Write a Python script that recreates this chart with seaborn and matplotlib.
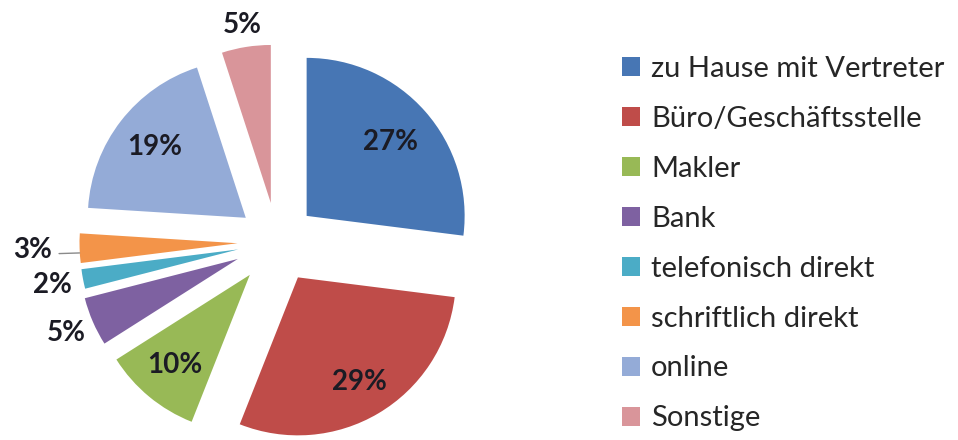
import matplotlib
matplotlib.use("Agg")
import matplotlib.pyplot as plt
from matplotlib.patches import Patch
import numpy as np
import seaborn as sns

# Vertriebswege: Anteil der Abschlüsse in Prozent
categories = [
    "zu Hause mit Vertreter",
    "Büro/Geschäftsstelle",
    "Makler",
    "Bank",
    "telefonisch direkt",
    "schriftlich direkt",
    "online",
    "Sonstige",
]
shares = [27, 29, 10, 5, 2, 3, 19, 5]

palette = sns.color_palette([
    "#4776B4", "#BF4C49", "#98B956", "#7E61A1",
    "#4BACC6", "#F39449", "#94ABD7", "#D9959A",
])

sns.set_theme(style="white")
plt.rcParams["font.family"] = ["Lato", "DejaVu Sans"]

W, H, DPI = 958, 440, 100
fig = plt.figure(figsize=(W / DPI, H / DPI), dpi=DPI)
fig.patch.set_facecolor("white")
ax = fig.add_axes([0, 0, 1, 1])

# pie geometry in pixels: centre and radius
cx, cy, R = 277, H - 242, 158

explode = [0.25, 0.26, 0.27, 0.27, 0.25, 0.25, 0.25, 0.25]
label_dist = [0.71, 0.77, 0.74, 1.18, 1.20, 1.30, 0.73, 1.14]

wedges, _ = ax.pie(
    shares,
    colors=palette,
    startangle=90,
    counterclock=False,
    explode=explode,
    wedgeprops=dict(linewidth=0),
)

ax.set_xlim(-cx / R, (W - cx) / R)
ax.set_ylim(-cy / R, (H - cy) / R)
ax.set_aspect("auto")
ax.axis("off")

for w, val, d in zip(wedges, shares, label_dist):
    mid = np.deg2rad((w.theta1 + w.theta2) / 2)
    x0, y0 = w.center
    tx = x0 + d * np.cos(mid)
    ty = y0 + d * np.sin(mid)
    ax.text(tx, ty, f"{val}%", ha="center", va="center",
            fontsize=20, fontweight="bold", color="#1b1b24")

# leader line for the 3 % slice
w = wedges[5]
mid = np.deg2rad((w.theta1 + w.theta2) / 2)
x0, y0 = w.center
ax.plot([x0 + 1.0 * np.cos(mid), x0 + 1.13 * np.cos(mid)],
        [y0 + 1.0 * np.sin(mid) - 0.03, y0 + 1.13 * np.sin(mid) - 0.03],
        color="#8a8a8a", lw=1)

handles = [Patch(facecolor=c, edgecolor="none") for c in palette]
fig.legend(
    handles, categories,
    loc="upper left",
    bbox_to_anchor=(622 / W, 1 - 56 / H),
    frameon=False,
    fontsize=21,
    handlelength=0.62,
    handleheight=0.62,
    handletextpad=0.38,
    labelspacing=0.82,
    borderpad=0,
    borderaxespad=0,
    labelcolor="#262626",
)

fig.savefig("out.png", dpi=DPI, facecolor="white")
